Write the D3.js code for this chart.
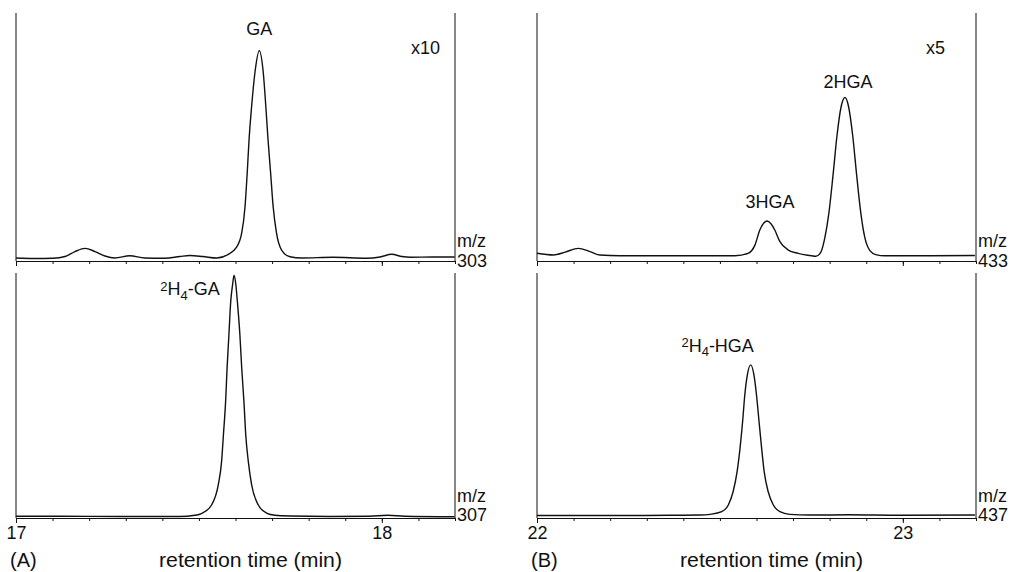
<!DOCTYPE html>
<html><head><meta charset="utf-8">
<script src="https://cdn.jsdelivr.net/npm/d3@7"></script>
<style>
body{margin:0;background:#fff}
svg{display:block;font-family:"Liberation Sans",Arial,Helvetica,sans-serif}
</style>
</head><body>
<svg id="chart" width="1012" height="572"></svg>
<script>
// ---------------- DATA ----------------
// retention time windows (min)
const domainA = [17, 18.2];
const domainB = [22, 23.2];
const majorTicksA = [17, 18];
const majorTicksB = [22, 23];

// m/z 303 (GA, x10) – relative abundance (% of full scale)
const time303  = [17.000,17.049,17.101,17.134,17.161,17.189,17.216,17.243,17.270,17.311,17.352,17.407,17.448,17.475,17.511,17.549,17.579,17.603,17.617,17.626,17.632,17.637,17.644,17.653,17.665,17.676,17.683,17.689,17.696,17.703,17.712,17.726,17.749,17.781,17.866,17.959,17.995,18.027,18.055,18.077,18.139,18.199];
const abund303 = [1.2,1.0,1.1,1.8,3.8,5.1,3.8,2.0,1.2,2.1,1.2,1.1,1.8,2.2,1.8,1.2,2.6,5.6,11.3,21.8,35.5,48.8,62.2,75.8,84.8,75.8,62.1,48.8,35.5,21.8,11.3,4.4,1.7,1.2,1.5,1.1,1.6,2.7,1.8,1.5,1.6,1.6];

// m/z 307 (2H4-GA)
const time307  = [17.000,17.120,17.284,17.448,17.489,17.507,17.535,17.553,17.562,17.567,17.573,17.577,17.582,17.587,17.592,17.596,17.601,17.605,17.612,17.617,17.623,17.628,17.635,17.644,17.662,17.685,17.708,17.749,17.858,17.967,18.016,18.063,18.199];
const abund307 = [0.7,0.7,0.6,0.6,1.1,1.8,5.4,13.6,23.1,34.0,47.6,61.2,74.8,88.5,95.2,99.1,95.2,88.5,74.8,61.2,47.6,34.0,23.1,13.6,5.4,2.0,1.1,0.8,0.6,0.7,1.1,0.7,0.5];

// m/z 433 (3HGA, 2HGA, x5)
const time433  = [22.000,22.045,22.077,22.113,22.145,22.172,22.227,22.391,22.541,22.577,22.596,22.609,22.620,22.629,22.639,22.650,22.664,22.687,22.714,22.751,22.762,22.776,22.787,22.798,22.809,22.820,22.831,22.842,22.852,22.863,22.874,22.885,22.896,22.910,22.926,22.951,23.074,23.197];
const abund433 = [3.1,2.4,3.6,5.1,3.8,2.4,2.1,2.1,2.1,3.1,6.5,12.5,15.3,16.1,15.1,12.5,7.8,4.4,3.1,2.1,1.9,3.6,9.5,19.5,34.3,50.5,62.0,65.9,62.0,50.5,34.3,19.5,9.5,4.2,2.6,2.1,2.1,2.2];

// m/z 437 (2H4-HGA)
const time437  = [22.000,22.172,22.363,22.445,22.473,22.505,22.523,22.536,22.547,22.555,22.562,22.568,22.575,22.584,22.593,22.600,22.607,22.614,22.621,22.632,22.646,22.664,22.691,22.746,22.855,22.992,23.197];
const abund437 = [1.0,1.0,1.1,1.2,1.5,2.6,5.3,10.7,18.9,28.5,39.3,50.2,58.4,62.5,58.4,50.2,39.3,28.5,18.9,10.7,5.3,2.6,1.5,1.2,1.3,1.1,1.2];

// peak annotations (^ = superscript next char, _ = subscript next char)
const peakNames303 = ["GA"];          const peakTimes303 = [17.665];
const peakNames307 = ["^2H_4-GA"];    const peakTimes307 = [17.596];
const peakNames433 = ["3HGA","2HGA"]; const peakTimes433 = [22.629, 22.842];
const peakNames437 = ["^2H_4-HGA"];   const peakTimes437 = [22.584];

const mzLabels = ["303","307","433","437"];
const factorLabels = ["x10", null, "x5", null];
const panelLetters = ["(A)", "(B)"];
const axisTitle = "retention time (min)";

// ---------------- LAYOUT / STYLE ----------------
const cols = [{x0:16, x1:455, factorEnd:440}, {x0:537, x1:976, factorEnd:945}];
const rows = [{top:13, axis:261, mzUp:14.3, numDown:5.7}, {top:273, axis:518, mzUp:16.5, numDown:3}];
const labelOffsets = { // dx, dy in px relative to peak apex
  "303": [[0,-16]],
  "307": [[-44,20]],
  "433": [[3,-13],[3,-10]],
  "437": [[-33,-13]]
};

const panels = [
  {col:0,row:0,domain:domainA,majors:majorTicksA,t:time303,a:abund303,names:peakNames303,pt:peakTimes303,mz:mzLabels[0],factor:factorLabels[0]},
  {col:0,row:1,domain:domainA,majors:majorTicksA,t:time307,a:abund307,names:peakNames307,pt:peakTimes307,mz:mzLabels[1],factor:factorLabels[1]},
  {col:1,row:0,domain:domainB,majors:majorTicksB,t:time433,a:abund433,names:peakNames433,pt:peakTimes433,mz:mzLabels[2],factor:factorLabels[2]},
  {col:1,row:1,domain:domainB,majors:majorTicksB,t:time437,a:abund437,names:peakNames437,pt:peakTimes437,mz:mzLabels[3],factor:factorLabels[3]}
];

const svg = d3.select("#chart");
const ink = "#111";

function richText(sel, str) {
  const parts = [];
  for (let i = 0; i < str.length; i++) {
    const c = str[i];
    if (c === "^" || c === "_") { parts.push({s:str[i+1], k:c}); i++; }
    else {
      if (parts.length && !parts[parts.length-1].k) parts[parts.length-1].s += c;
      else parts.push({s:c, k:null});
    }
  }
  let cur = 0;
  parts.forEach(p => {
    const target = p.k === "^" ? -4.5 : p.k === "_" ? 4.5 : 0;
    const ts = sel.append("tspan").attr("dy", target - cur).text(p.s);
    if (p.k) ts.attr("font-size", 13);
    cur = target;
  });
}

panels.forEach(p => {
  const c = cols[p.col], r = rows[p.row];
  const x = d3.scaleLinear().domain(p.domain).range([c.x0, c.x1]);
  const y = d3.scaleLinear().domain([0, 100]).range([r.axis, r.top]);
  const g = svg.append("g");

  // frame verticals
  g.append("line").attr("x1", c.x0).attr("x2", c.x0).attr("y1", r.top).attr("y2", r.axis)
    .attr("stroke", ink).attr("stroke-width", 1);
  g.append("line").attr("x1", c.x1).attr("x2", c.x1).attr("y1", r.top).attr("y2", r.axis)
    .attr("stroke", ink).attr("stroke-width", 1);

  // minor ticks every 0.1 min
  const minor = d3.range(0, Math.round((p.domain[1]-p.domain[0])*10)+1).map(i => +(p.domain[0] + i*0.1).toFixed(1));
  const axMinor = g.append("g").attr("transform", `translate(0,${r.axis})`)
    .call(d3.axisBottom(x).tickValues(minor).tickSize(3).tickSizeOuter(0).tickFormat(""));
  const axMajor = g.append("g").attr("transform", `translate(0,${r.axis})`)
    .call(d3.axisBottom(x).tickValues(p.majors).tickSize(5).tickSizeOuter(0)
      .tickPadding(3).tickFormat(p.row === 1 ? d3.format("d") : ""));
  [axMinor, axMajor].forEach(a => {
    a.selectAll("path,line").attr("stroke", ink).attr("stroke-width", 1);
    a.selectAll("text").attr("fill", ink).attr("font-size", 18)
      .attr("font-family", '"Liberation Sans",Arial,sans-serif');
  });
  axMajor.select(".domain").remove();

  // trace
  const pts = p.t.map((t, i) => [t, p.a[i]]);
  const line = d3.line().x(d => x(d[0])).y(d => y(d[1])).curve(d3.curveMonotoneX);
  g.append("path").datum(pts).attr("d", line).attr("fill", "none")
    .attr("stroke", ink).attr("stroke-width", 1.4).attr("stroke-linejoin", "round");

  // peak labels
  const offs = labelOffsets[p.mz];
  p.names.forEach((n, i) => {
    const t = p.pt[i];
    let best = 0;
    p.t.forEach((tt, j) => { if (Math.abs(tt - t) < Math.abs(p.t[best] - t)) best = j; });
    const tx = g.append("text").attr("x", x(t) + offs[i][0]).attr("y", y(p.a[best]) + offs[i][1])
      .attr("text-anchor", "middle").attr("font-size", 18).attr("fill", ink);
    richText(tx, n);
  });

  // m/z label
  g.append("text").attr("x", c.x1 + 2).attr("y", r.axis - r.mzUp).attr("font-size", 18).attr("fill", ink).text("m/z");
  g.append("text").attr("x", c.x1 + 2).attr("y", r.axis + r.numDown).attr("font-size", 18).attr("fill", ink).text(p.mz);

  // amplification factor
  if (p.factor) {
    g.append("text").attr("x", c.factorEnd).attr("y", r.top + 41).attr("text-anchor", "end")
      .attr("font-size", 18).attr("fill", ink).text(p.factor);
  }
});

// panel letters and axis titles
cols.forEach((c, i) => {
  svg.append("text").attr("x", c.x0 - 6).attr("y", 567).attr("font-size", 20).attr("fill", ink).text(panelLetters[i]);
  svg.append("text").attr("x", (c.x0 + c.x1) / 2 + 15).attr("y", 567).attr("text-anchor", "middle")
    .attr("font-size", 20).attr("fill", ink)
    .attr("textLength", 183).attr("lengthAdjust", "spacingAndGlyphs").text(axisTitle);
});
</script>
</body></html>
